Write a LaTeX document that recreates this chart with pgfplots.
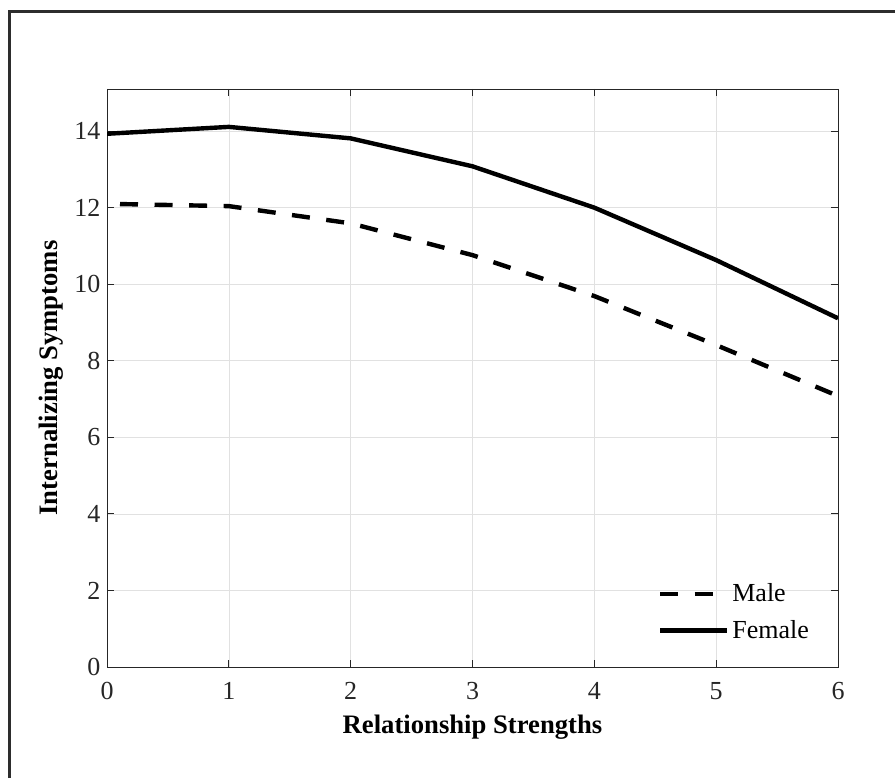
\documentclass[border=0pt]{standalone}
\usepackage{pgfplots}
\pgfplotsset{compat=1.18}
\usepackage{fontspec}
\setmainfont{Liberation Serif}
\definecolor{axgray}{RGB}{38,38,38}
\definecolor{gridgray}{RGB}{225,225,225}
\definecolor{framegray}{RGB}{45,45,45}
\begin{document}
\begin{tikzpicture}
% page size: 895x778 px at 0.75pt per px
\path[use as bounding box] (0,0) rectangle (671.25pt,583.5pt);
\draw[framegray, line width=2.2pt] (7.1pt,0) -- (7.1pt,574.9pt) -- (671.25pt,574.9pt);
\begin{axis}[
  at={(80.25pt,83.25pt)}, anchor=south west,
  scale only axis,
  width=548.25pt, height=433.5pt,
  xmin=0, xmax=6, ymin=0, ymax=15.1,
  xtick={0,...,6}, ytick={0,2,...,14},
  grid=major,
  major grid style={gridgray, line width=0.5pt},
  axis line style={axgray, line width=0.7pt},
  tick style={axgray, line width=0.7pt},
  major tick length=5pt,
  tick align=inside,
  ticklabel style={font=\fontsize{19.5}{23}\selectfont, text=axgray},
  xticklabel style={yshift=-8pt},
  yticklabel style={xshift=-1.5pt},
  /pgf/number format/assume math mode=true,
  xlabel={Relationship Strengths},
  ylabel={Internalizing Symptoms},
  label style={font=\fontsize{20}{24}\selectfont\bfseries, text=black},
  xlabel style={at={(axis description cs:0.5,-0.115)}, anchor=base},
  ylabel style={at={(axis description cs:-0.076,0.5)}, anchor=center},
  legend style={draw=none, fill=none, at={(axis cs:4.52,2.27)}, anchor=north west,
    font=\fontsize{19.5}{23}\selectfont, row sep=7.5pt, inner sep=0pt,
    nodes={inner sep=2.5pt}},
  legend cell align=left,
  legend image code/.code={\draw[#1, dash phase=0pt] (0pt,0pt) -- (50pt,0pt);},
]
\addplot[black, line width=3.3pt, dash pattern=on 13.5pt off 12.4pt, dash phase=16.15pt] coordinates {
  (0,12.10) (1,12.04) (2,11.59) (3,10.76) (4,9.69) (5,8.41) (6,7.08)
};
\addlegendentry{Male}
\addplot[black, line width=3.3pt] coordinates {
  (0,13.93) (1,14.11) (2,13.81) (3,13.08) (4,12.00) (5,10.63) (6,9.11)
};
\addlegendentry{Female}
\end{axis}
\end{tikzpicture}
\end{document}
